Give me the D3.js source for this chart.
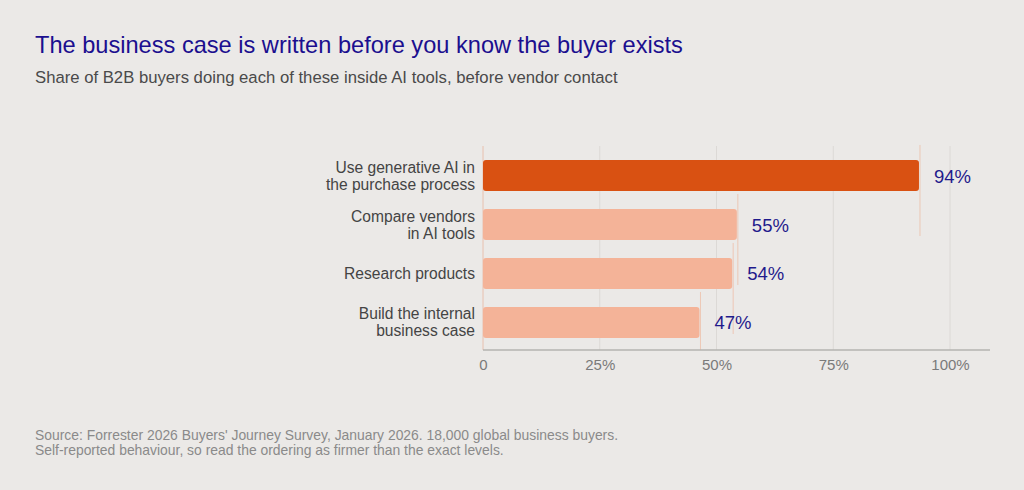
<!DOCTYPE html>
<html lang="en">
<head>
    <meta charset="UTF-8">
    <title>The business case is written before you know the buyer exists</title>
    <script src="https://d3js.org/d3.v7.min.js"></script>
    <style>
        body {
            margin: 0;
            background-color: #ebe9e7;
        }
        svg {
            display: block;
            font-family: "Liberation Sans", Arial, sans-serif;
        }
        .tick text {
            fill: #7a7a7a;
            font-size: 15px;
        }
    </style>
</head>
<body>
    <script>
        const categories = [
            ["Use generative AI in", "the purchase process"],
            ["Compare vendors", "in AI tools"],
            ["Research products"],
            ["Build the internal", "business case"]
        ];
        const values = [94, 55, 54, 47];
        const tickValues = [0, 25, 50, 75, 100];
        const tickLabels = ["0", "25%", "50%", "75%", "100%"];

        const w = 1024;
        const h = 490;

        const svg = d3.select("body")
            .append("svg")
            .attr("width", w)
            .attr("height", h);

        svg.append("rect")
            .attr("width", w)
            .attr("height", h)
            .attr("fill", "#ebe9e7");

        // titles
        svg.append("text")
            .attr("x", 35)
            .attr("y", 53)
            .attr("fill", "#1b0f8f")
            .style("font-size", "23.6px")
            .text("The business case is written before you know the buyer exists");

        svg.append("text")
            .attr("x", 35)
            .attr("y", 83)
            .attr("fill", "#4a4a4a")
            .style("font-size", "16.7px")
            .text("Share of B2B buyers doing each of these inside AI tools, before vendor contact");

        const xScale = d3.scaleLinear()
            .domain([0, 100])
            .range([483, 950]);

        const yScale = d3.scaleBand()
            .domain(d3.range(categories.length))
            .range([150, 348])
            .paddingInner(0.367)
            .paddingOuter(0.204);

        // gridlines
        svg.append("g")
            .selectAll("line")
            .data(tickValues)
            .enter()
            .append("line")
            .attr("x1", (d) => xScale(d))
            .attr("x2", (d) => xScale(d))
            .attr("y1", 146)
            .attr("y2", 350)
            .attr("stroke", "#dcd9d6")
            .attr("stroke-width", 1);

        // faint trace lines at bar ends
        svg.append("g")
            .selectAll("line")
            .data(values)
            .enter()
            .append("line")
            .attr("x1", (d) => xScale(d) - 2)
            .attr("x2", (d) => xScale(d) - 2)
            .attr("y1", (d, i) => yScale(i) - 15)
            .attr("y2", (d, i) => Math.min(350, yScale(i) + yScale.bandwidth() + 45))
            .attr("stroke", "#f0a886")
            .attr("stroke-opacity", 0.5)
            .attr("stroke-width", 1);

        svg.append("line")
            .attr("x1", xScale(0))
            .attr("x2", xScale(0))
            .attr("y1", 146)
            .attr("y2", 350)
            .attr("stroke", "#f0c8b6")
            .attr("stroke-width", 1);

        // bars
        svg.append("g")
            .selectAll("rect")
            .data(values)
            .enter()
            .append("rect")
            .attr("x", xScale(0))
            .attr("y", (d, i) => yScale(i))
            .attr("width", (d) => xScale(d) - xScale(0) - 3)
            .attr("height", yScale.bandwidth())
            .attr("rx", 3)
            .attr("fill", (d, i) => i === 0 ? "#d95112" : "#f4b398");

        // value labels
        svg.append("g")
            .selectAll("text")
            .data(values)
            .enter()
            .append("text")
            .attr("x", (d) => xScale(d) + 12)
            .attr("y", (d, i) => yScale(i) + yScale.bandwidth() / 2 + 7)
            .attr("fill", "#1f1a8c")
            .style("font-size", "18.5px")
            .text((d) => d + "%");

        // category labels
        const cat = svg.append("g")
            .selectAll("text")
            .data(categories)
            .enter()
            .append("text")
            .attr("text-anchor", "end")
            .attr("fill", "#444")
            .style("font-size", "15.6px")
            .attr("transform", (d, i) => "translate(475," + (yScale(i) + yScale.bandwidth() / 2) + ")");

        cat.selectAll("tspan")
            .data((d) => d.map((t, j) => ({ t: t, j: j, n: d.length })))
            .enter()
            .append("tspan")
            .attr("x", 0)
            .attr("y", (d) => (d.j - (d.n - 1) / 2) * 17 + 5.5)
            .text((d) => d.t);

        // x axis
        const xAxis = d3.axisBottom(xScale)
            .tickValues(tickValues)
            .tickFormat((d, i) => tickLabels[i])
            .tickSize(0)
            .tickPadding(9);

        const axisG = svg.append("g")
            .attr("transform", "translate(0,350)")
            .call(xAxis);

        axisG.select(".domain").remove();
        axisG.selectAll(".tick text").attr("font-family", null);

        svg.append("line")
            .attr("x1", 483)
            .attr("x2", 990)
            .attr("y1", 350)
            .attr("y2", 350)
            .attr("stroke", "#b5b3b1")
            .attr("stroke-width", 1.5);

        // source
        const src = svg.append("text")
            .attr("fill", "#8a8a8a")
            .style("font-size", "13.9px");
        src.append("tspan").attr("x", 35).attr("y", 440)
            .text("Source: Forrester 2026 Buyers' Journey Survey, January 2026. 18,000 global business buyers.");
        src.append("tspan").attr("x", 35).attr("y", 455)
            .text("Self-reported behaviour, so read the ordering as firmer than the exact levels.");
    </script>
</body>
</html>
